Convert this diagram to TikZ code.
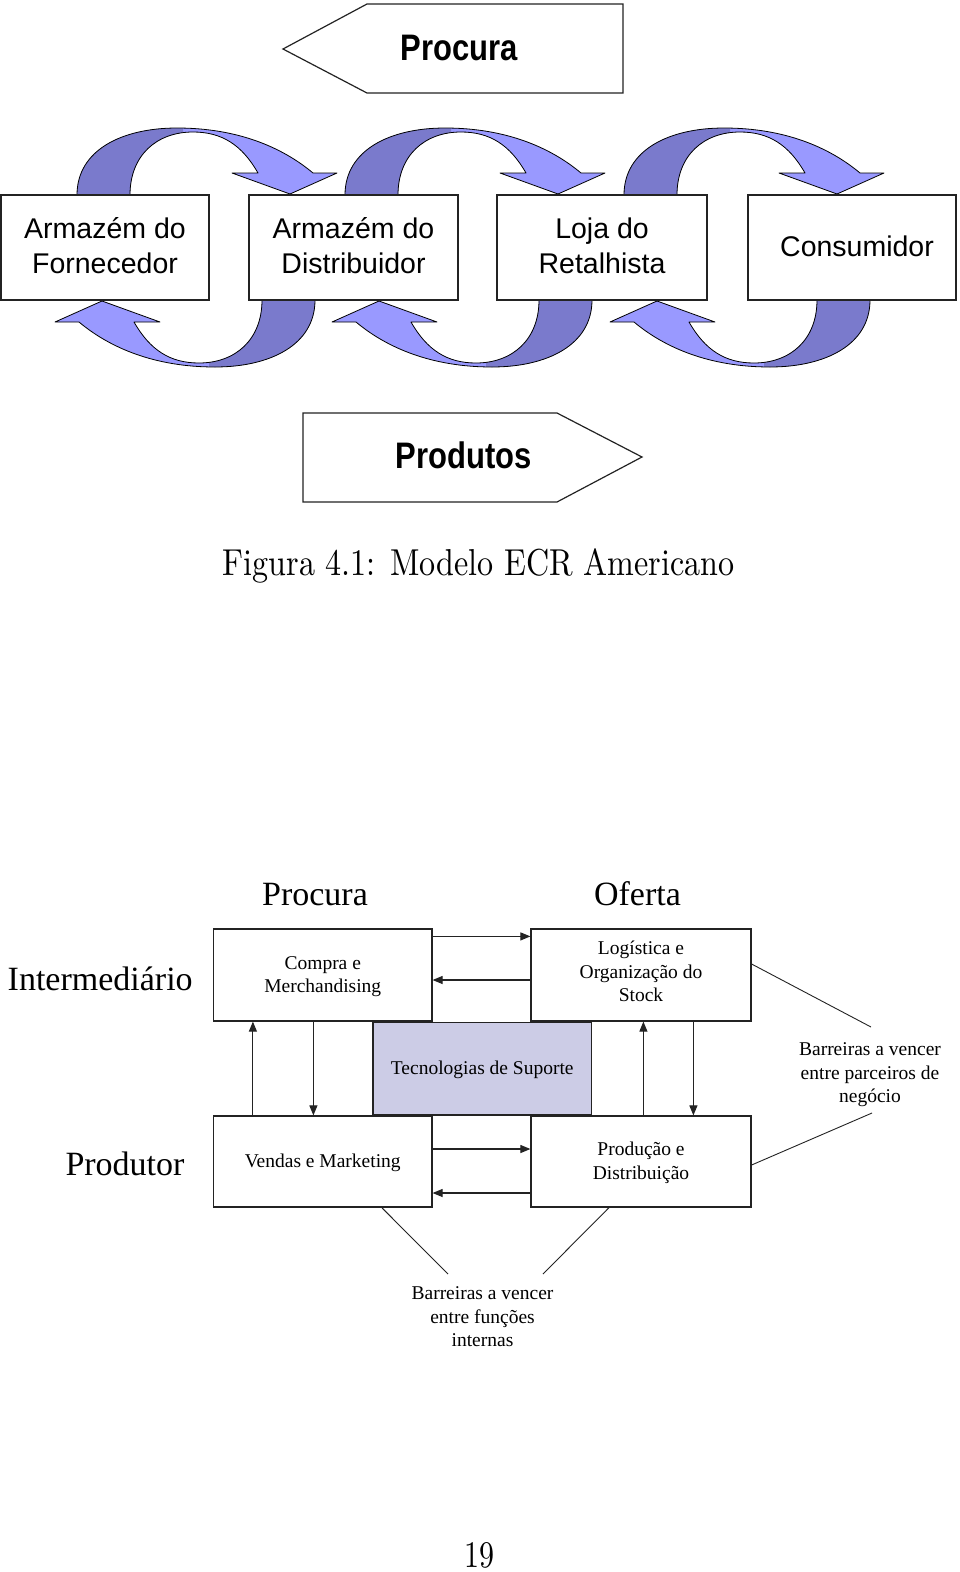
\documentclass[tikz,border=0pt]{standalone}
\usepackage{fontspec}
\usepackage{graphicx}
\usetikzlibrary{arrows.meta}
\newfontfamily\sansA{Liberation Sans}
\newfontfamily\serifT{Liberation Serif}
\definecolor{arrlight}{RGB}{153,153,255}
\definecolor{arrdark}{RGB}{122,122,204}
\definecolor{techfill}{RGB}{204,204,230}
\definecolor{edge}{RGB}{35,35,35}
\newcommand\ls{\rule[-0.3em]{0pt}{1.2em}}
\newcommand\dep[1]{\rule[-#1]{0pt}{0pt}}
\newcommand\crvpath{(0,3) -- (0,0) .. controls (0,-45) and (45,-67) .. (100,-67) .. controls (160,-67) and (205,-48) .. (236,-22) -- (260,-22) -- (213,-1) -- (155,-22) -- (181,-22) .. controls (165,-50) and (145,-63) .. (116,-63) .. controls (80,-63) and (53,-40) .. (53,0) -- (53,3) -- cycle}
\tikzset{
  curvarrow/.pic={
    \fill[arrlight] \crvpath;
    \begin{scope}
      \clip (-10,10) rectangle (106,-80);
      \fill[arrdark] \crvpath;
    \end{scope}
    \draw[black, line width=0.8pt, line join=round] \crvpath;
  },
  topbox/.style={draw=edge, line width=1.2pt, fill=white, minimum height=105pt, inner sep=0pt, align=center, font=\sansA\fontsize{28.5}{35}\selectfont},
  flowarrow/.style={draw=edge, line width=1.2pt, fill=white, line join=miter},
  bigbold/.style={inner sep=0pt, font=\sansA\bfseries\fontsize{31}{36}\selectfont},
  fbox/.style={draw=edge, line width=1.2pt, fill=white, minimum width=219pt, minimum height=92pt, inner sep=0pt, align=center, font=\serifT\fontsize{19.5}{23.5}\selectfont},
  lab/.style={inner sep=0pt, font=\serifT\fontsize{34}{40}\selectfont},
  note/.style={inner sep=0pt, align=center, font=\serifT\fontsize{19.5}{23.5}\selectfont},
  farrow/.style={draw=edge, line width=1.1pt, -{Triangle[length=10pt,width=8pt]}},
  thinline/.style={draw=edge, line width=0.9pt},
  pagetext/.style={inner sep=0pt, font=\fontsize{10}{12}\selectfont}
}
\begin{document}
\begin{tikzpicture}[x=1pt,y=-1pt]
\fill[white] (0,0) rectangle (960,1572);
\useasboundingbox (0,0) rectangle (960,1572);

% ---------- top figure ----------
\draw[flowarrow] (283,49) -- (367,4) -- (623,4) -- (623,93) -- (367,93) -- cycle;
\node[bigbold, anchor=base] (procuraT) at (459,60) {\scalebox{1}[1.19]{Procura}};
\draw[flowarrow] (303,413) -- (557,413) -- (642,457) -- (557,502) -- (303,502) -- cycle;
\node[bigbold, anchor=base] (produtos) at (464,468) {\scalebox{1}[1.19]{Produtos}};

\pic at (77,195) {curvarrow};
\pic at (345,195) {curvarrow};
\pic at (624,195) {curvarrow};
\pic[rotate=180] at (315,300) {curvarrow};
\pic[rotate=180] at (592,300) {curvarrow};
\pic[rotate=180] at (870,300) {curvarrow};

\node[topbox, minimum width=208pt] (b1) at (105,247.5) {\ls Armazém do\\\ls Fornecedor};
\node[topbox, minimum width=209pt] (b2) at (353.5,247.5) {\ls Armazém do\\\ls Distribuidor};
\node[topbox, minimum width=210pt] (b3) at (602,247.5) {\ls Loja do\\\ls Retalhista};
\node[topbox, minimum width=208pt] (b4) at (852,247.5) {\ls\hspace*{10pt}Consumidor};

% caption
\node[pagetext, anchor=base] (caption) at (478.5,575) {\scalebox{3.21}[3.75]{Figura 4.1: Modelo ECR Americano}};

% ---------- bottom figure ----------
\node[lab, anchor=base] (hprocura) at (315,905) {Procura};
\node[lab, anchor=base] (hoferta) at (637.5,905) {Oferta};
\node[lab, anchor=base] (hinter) at (100.2,990) {Intermediário};
\node[lab, anchor=base] (hprodutor) at (125,1175) {Produtor};

\node[fbox, minimum width=218.5pt] (compra) at (322.75,975) {\ls Compra e\\\ls Merchandising};
\node[fbox, minimum width=220pt] (logis) at (641,975) {\ls Logística e\\\ls Organização do\\\ls Stock\dep{11pt}};
\node[fbox, minimum width=218.5pt, minimum height=92.5pt, fill=techfill] (tec) at (482.25,1068.75) {\ls Tecnologias de Suporte};
\node[fbox, minimum width=218.5pt, minimum height=91pt] (vendas) at (322.75,1161.5) {\ls Vendas e Marketing\dep{6pt}};
\node[fbox, minimum width=220pt, minimum height=91pt] (prod) at (641,1161.5) {\ls Produção e\\\ls Distribuição};

\draw[farrow] ([yshift=-8pt]compra.north east) -- ([yshift=-8pt]logis.north west);
\draw[farrow] ([yshift=-5pt]logis.west) -- ([yshift=-5pt]compra.east);
\draw[farrow] ([yshift=12.5pt]vendas.east) -- ([yshift=12.5pt]prod.west);
\draw[farrow] ([yshift=-31.5pt]prod.west) -- ([yshift=-31.5pt]vendas.east);
\draw[farrow] ([xshift=40pt]vendas.north west) -- ([xshift=40pt]compra.south west);
\draw[farrow] ([xshift=100.5pt]compra.south west) -- ([xshift=100.5pt]vendas.north west);
\draw[farrow] ([xshift=113pt]prod.north west) -- ([xshift=113pt]logis.south west);
\draw[farrow] ([xshift=163pt]logis.south west) -- ([xshift=163pt]prod.north west);

\coordinate (bp1) at (871,1027);
\coordinate (bp2) at (872,1113);
\coordinate (bf1) at (448,1274);
\coordinate (bf2) at (543,1274);
\draw[thinline] ([yshift=11pt]logis.east) -- (bp1);
\draw[thinline] ([yshift=-3.5pt]prod.east) -- (bp2);
\draw[thinline] ([xshift=59pt]vendas.south) -- (bf1);
\draw[thinline] ([xshift=-32pt]prod.south) -- (bf2);

\node[note] (barp) at (870,1073.6) {\ls Barreiras a vencer\\\ls entre parceiros de\\\ls negócio};
\node[note] (barf) at (482.5,1317.5) {\ls Barreiras a vencer\\\ls entre funções\\\ls internas};

% page number
\node[pagetext, anchor=base] (pagenum) at (479,1567) {\scalebox{3.0}[3.75]{19}};
\end{tikzpicture}
\end{document}
